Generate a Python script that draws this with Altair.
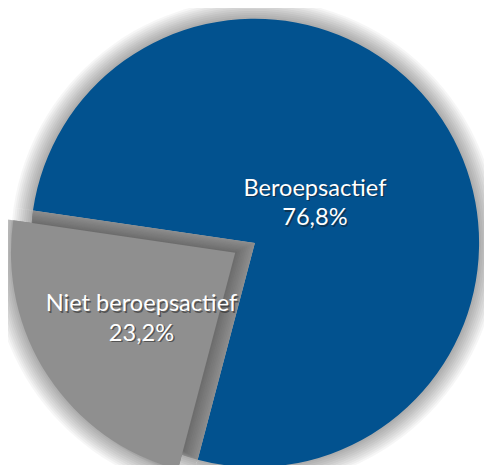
import math
import altair as alt
import pandas as pd

# ---- data ----
categories = ["Beroepsactief", "Niet beroepsactief"]
values = [76.8, 23.2]
colors = ["#02528f", "#8f8f8f"]

labels = [f"{c}\n{str(v).replace('.', ',')}%" for c, v in zip(categories, values)]
df = pd.DataFrame({
    "category": categories,
    "value": values,
    "idx": list(range(len(categories))),
    "label": labels,
})

# ---- layout ----
W, H = 476, 457
R = 228
start = math.radians(-81.7)
theta = alt.Theta("value:Q", stack=True,
                  scale=alt.Scale(range=[start, start + 2 * math.pi]))
order = alt.Order("idx:Q")
blue_c = (251, 235)
grey_c = (231, 245)

base = alt.Chart(df)


def sel(cat, on, off=0):
    return alt.condition(f"datum.category == '{cat}'", alt.value(on), alt.value(off))


layers = []
# soft drop shadows
for cat, c in [(categories[0], blue_c), (categories[1], grey_c), (categories[1], blue_c)]:
    for k in range(1, 11):
        layers.append(
            base.mark_arc(radius=R + 2 * k, color="black").encode(
                theta=theta, order=order,
                x=alt.value(c[0]), y=alt.value(c[1]),
                opacity=sel(cat, 0.035),
            )
        )

# main slice
layers.append(
    base.mark_arc(radius=R, color=colors[0]).encode(
        theta=theta, order=order,
        x=alt.value(blue_c[0]), y=alt.value(blue_c[1]),
        opacity=sel(categories[0], 1),
    )
)
# shaded gap behind exploded slice (smooth-ish gradient in steps)
n = 10
for i in range(n):
    t = i / n
    g = int(round(0x8c - (0x8c - 0x6a) * t))
    col = f"#{g:02x}{g:02x}{g:02x}"
    cx = blue_c[0] + (grey_c[0] - blue_c[0]) * t
    cy = blue_c[1] + (grey_c[1] - blue_c[1]) * t
    layers.append(
        base.mark_arc(radius=R - 2 * i, color=col).encode(
            theta=theta, order=order,
            x=alt.value(cx), y=alt.value(cy),
            opacity=sel(categories[1], 1),
        )
    )
# exploded slice
layers.append(
    base.mark_arc(radius=R, color=colors[1]).encode(
        theta=theta, order=order,
        x=alt.value(grey_c[0]), y=alt.value(grey_c[1]),
        opacity=sel(categories[1], 1),
    )
)

# labels (shadow + white)
text_kw = dict(font="Lato", fontSize=24, lineBreak="\n", lineHeight=30,
               align="center", baseline="middle")
for cat, c, r, ddx, ddy in [(categories[0], blue_c, 72, 1, -15),
                            (categories[1], grey_c, 119, 4, -13)]:
    layers.append(
        base.mark_text(radius=r, color="#1a1a1a", dx=ddx + 1.5, dy=ddy + 1.5, **text_kw).encode(
            theta=theta, order=order, text="label:N",
            x=alt.value(c[0]), y=alt.value(c[1]),
            opacity=sel(cat, 0.5),
        )
    )
    layers.append(
        base.mark_text(radius=r, color="white", dx=ddx, dy=ddy, **text_kw).encode(
            theta=theta, order=order, text="label:N",
            x=alt.value(c[0]), y=alt.value(c[1]),
            opacity=sel(cat, 1),
        )
    )

chart = alt.layer(*layers).properties(
    width=W, height=H,
    autosize=alt.AutoSizeParams(type="none"),
    padding={"left": 0, "top": 0, "right": 8, "bottom": 0},
).configure_view(stroke=None)

chart.save("out.html", embed_options={"renderer": "svg", "actions": False})
